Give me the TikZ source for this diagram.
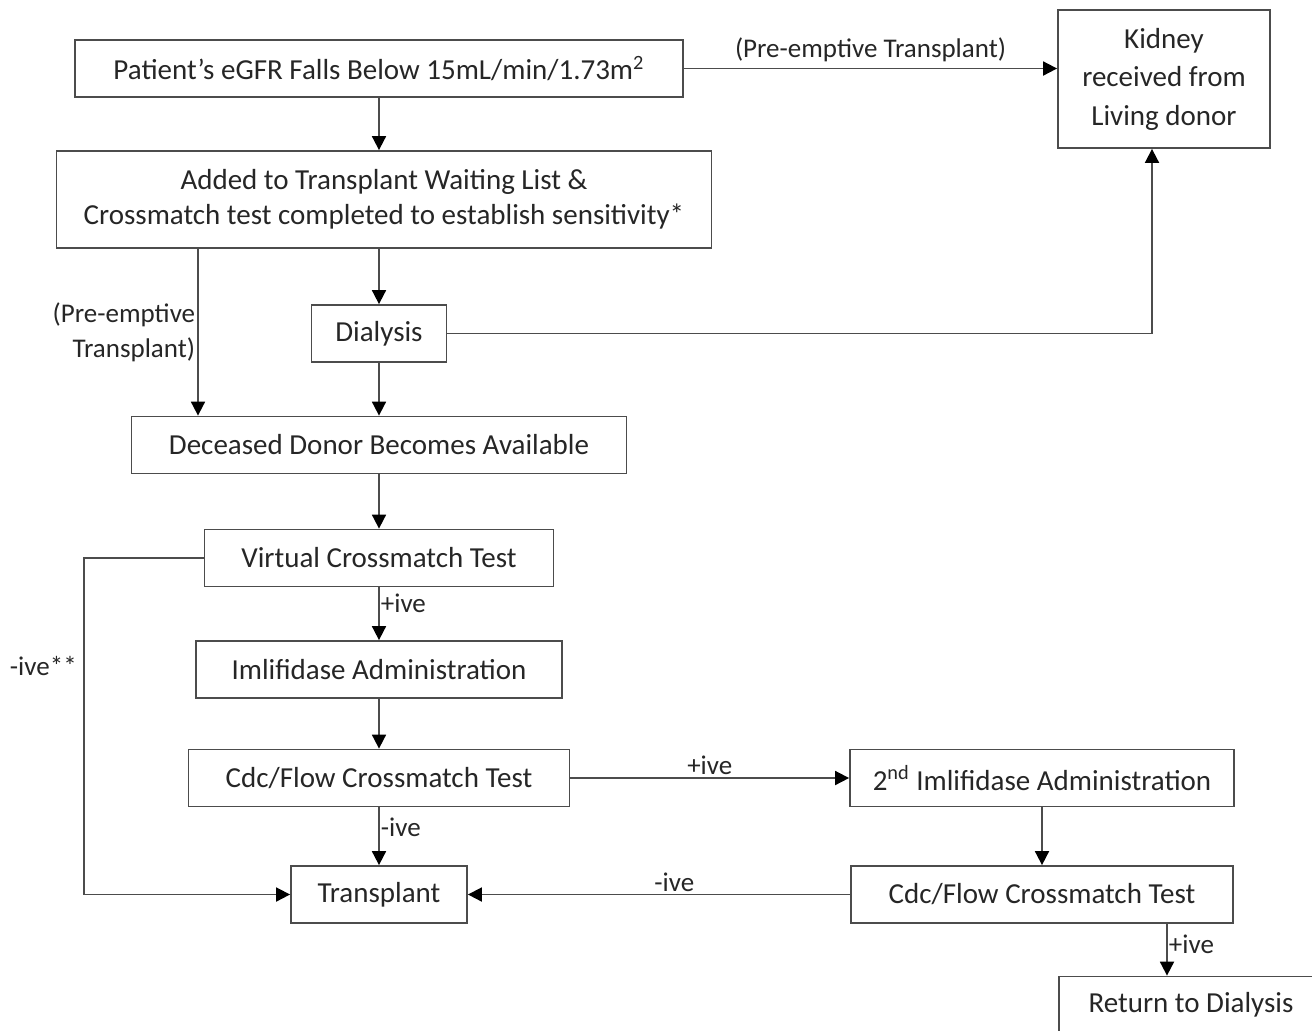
\documentclass[tikz,border=0pt]{standalone}
\usepackage{fontspec}
\setmainfont{Carlito}
\usetikzlibrary{arrows.meta, positioning}

\begin{document}
\begin{tikzpicture}[
        x=0.5pt, y=-0.5pt, on grid, node distance=56pt,
        >={Triangle[length=7pt,width=7pt,color=black]},
        every node/.style={text=black!85},
        box/.style={draw=black!70, line width=0.9pt, align=center, inner sep=0pt,
          minimum height=28.5pt, font=\fontsize{14.5}{17.5}\selectfont},
        lbl/.style={font=\fontsize{13.5}{17.5}\selectfont, inner sep=1pt},
        every edge/.append style={draw=black!70, line width=0.9pt},
        flow/.style={->, draw=black!70, line width=0.9pt}
        ]
  \useasboundingbox (0,0) rectangle (1312,1030);

  \node[box, minimum width=304pt]   (egfr)   at (379,68.5)             {Patient’s eGFR Falls Below 15mL/min/1.73m\textsuperscript{2}};
  \node[box, minimum width=327.5pt, minimum height=48.5pt, xshift=2.5pt] (list) [below=65.5pt of egfr]
        {Added to Transplant Waiting List \&\\Crossmatch test completed to establish sensitivity*};
  \node[box, minimum width=106pt, minimum height=69pt, font=\fontsize{14.5}{19.25}\selectfont]
        (kidney) [right=392.5pt of egfr, yshift=-5.25pt] {Kidney\\received from\\Living donor};
  \node[box, minimum width=67.5pt]  (dial)   [below=67pt of list, xshift=-2.5pt] {Dialysis};
  \node[box, minimum width=247.5pt] (dec)    [below=55.75pt of dial]   {Deceased Donor Becomes Available};
  \node[box, minimum width=174.5pt] (virt)   [below=56.5pt of dec]     {Virtual Crossmatch Test};
  \node[box, minimum width=183pt]   (iml)    [below=55.75pt of virt]   {Imlifidase Administration};
  \node[box, minimum width=190.5pt] (cdc_1)  [below=54.25pt of iml]    {Cdc/Flow Crossmatch Test};
  \node[box, minimum width=88pt]    (tx)     [below=58.25pt of cdc_1]  {Transplant};
  \node[box, minimum width=192pt]   (iml_2)  [right=331.5pt of cdc_1]  {2\textsuperscript{nd} Imlifidase Administration};
  \node[box, minimum width=191pt]   (cdc_2)  [below=58.25pt of iml_2]  {Cdc/Flow Crossmatch Test};
  \node[box, minimum width=132pt]   (ret)    [below right=55.25pt and 74.5pt of cdc_2] {Return to Dialysis};

  \path[->] (egfr) edge (egfr |- list.north)
            (list.south -| dial) edge (dial)
            (dial) edge (dec)
            (dec) edge (virt)
            (virt) edge node[lbl, right, pos=0.3, inner sep=0.5pt] {+ive} (iml)
            (iml) edge (cdc_1)
            (cdc_1) edge node[lbl, right, pos=0.35, inner sep=0.5pt] {-ive} (tx)
            (cdc_1) edge node[lbl, above] {+ive} (iml_2)
            (iml_2) edge (cdc_2)
            (cdc_2) edge node[lbl, above, pos=0.46] {-ive} (tx)
            (egfr) edge node[lbl, above, yshift=2pt] {(Pre-emptive Transplant)} (egfr -| kidney.west);

  \draw[flow] ([xshift=-93pt]list.south) -- node[lbl, left, align=right] {(Pre-emptive\\Transplant)}
        ([xshift=-93pt]list.south |- dec.north);
  \draw[flow] (dial.east) -| ([xshift=-6pt]kidney.south);
  \draw[flow] (virt.west) -- ++(-60pt,0) |- node[lbl, left, pos=0.16, inner sep=3pt] {-ive**} (tx.west);
  \draw[flow] ([xshift=62.5pt]cdc_2.south) -- node[lbl, right, pos=0.4, inner sep=0.5pt] {+ive}
        ([xshift=62.5pt]cdc_2.south |- ret.north);
\end{tikzpicture}
\end{document}
